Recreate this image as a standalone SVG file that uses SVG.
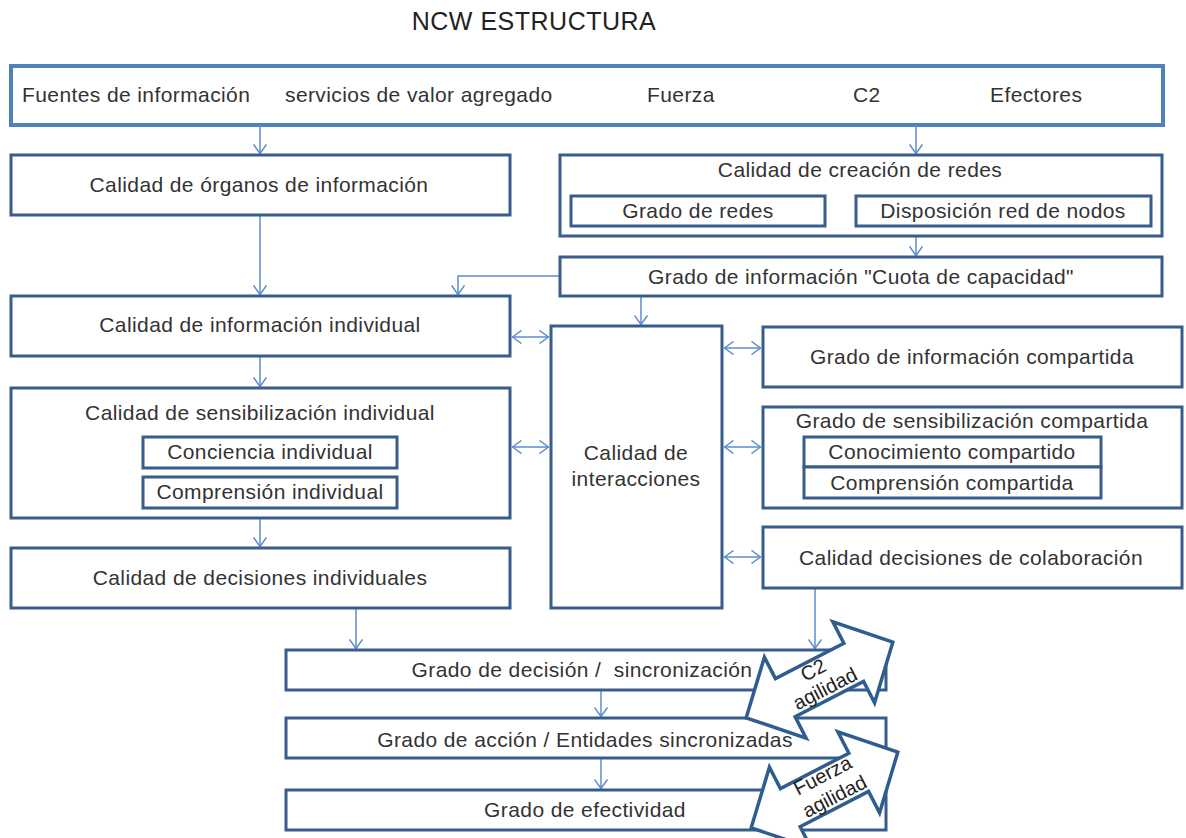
<svg xmlns="http://www.w3.org/2000/svg" width="1186" height="838" viewBox="0 0 1186 838">
<defs>
<style>
.bx{fill:#fff;stroke:#385D8A;stroke-width:3}
.top{fill:#fff;stroke:#4F81BD;stroke-width:4}
.t{font-family:"Liberation Sans",Arial,sans-serif;font-size:21px;fill:#333;letter-spacing:0.4px;text-anchor:middle}
.ts{font-family:"Liberation Sans",Arial,sans-serif;font-size:21px;fill:#333;letter-spacing:0.4px}
.c{fill:none;stroke:#5B8DD0;stroke-width:1.5}
.ba{fill:#fff;stroke:#2F5D8F;stroke-width:3.5;stroke-linejoin:miter}
.bt{font-family:"Liberation Sans",Arial,sans-serif;font-size:20px;fill:#222;text-anchor:middle}
</style>
<marker id="ah" viewBox="0 0 10 14" refX="10" refY="7" markerWidth="10" markerHeight="14" markerUnits="userSpaceOnUse" orient="auto-start-reverse">
<path d="M0.5,0.5 L9.5,7 L0.5,13.5" fill="none" stroke="#5B8DD0" stroke-width="1.5"/>
</marker>
<polygon id="blk" points="-82.5,0 -38.5,-45.5 -38.5,-21.5 38.5,-21.5 38.5,-45.5 82.5,0 38.5,45.5 38.5,21.5 -38.5,21.5 -38.5,45.5"/>
</defs>
<rect width="1186" height="838" fill="#fff"/>
<text x="534" y="30" font-family="'Liberation Sans',Arial,sans-serif" font-size="25" fill="#222" text-anchor="middle" letter-spacing="0.5">NCW ESTRUCTURA</text>

<g id="top">
<rect class="top" x="11" y="66" width="1152" height="59"/>
<text class="ts" x="22" y="102">Fuentes de información</text>
<text class="ts" x="285" y="102">servicios de valor agregado</text>
<text class="ts" x="647" y="102">Fuerza</text>
<text class="ts" x="853" y="102">C2</text>
<text class="ts" x="990" y="102">Efectores</text>
</g>

<g id="connectors">
<path class="c" d="M260,125 V154" marker-end="url(#ah)"/>
<path class="c" d="M916,125 V154" marker-end="url(#ah)"/>
<path class="c" d="M916,236 V256" marker-end="url(#ah)"/>
<path class="c" d="M560,276 H458 V295" marker-end="url(#ah)"/>
<path class="c" d="M641,296 V325" marker-end="url(#ah)"/>
<path class="c" d="M260,215 V295" marker-end="url(#ah)"/>
<path class="c" d="M260,356 V387" marker-end="url(#ah)"/>
<path class="c" d="M260,518 V547" marker-end="url(#ah)"/>
<path class="c" d="M356,608 V649" marker-end="url(#ah)"/>
<path class="c" d="M815,588 V649" marker-end="url(#ah)"/>
<path class="c" d="M601,690 V717" marker-end="url(#ah)"/>
<path class="c" d="M601,758 V789" marker-end="url(#ah)"/>
<path class="c" d="M512,337 H549" marker-start="url(#ah)" marker-end="url(#ah)"/>
<path class="c" d="M512,447 H549" marker-start="url(#ah)" marker-end="url(#ah)"/>
<path class="c" d="M724,348 H761" marker-start="url(#ah)" marker-end="url(#ah)"/>
<path class="c" d="M724,447 H761" marker-start="url(#ah)" marker-end="url(#ah)"/>
<path class="c" d="M724,557 H761" marker-start="url(#ah)" marker-end="url(#ah)"/>
</g>

<g id="organos">
<rect class="bx" x="11" y="155" width="499" height="60"/>
<text class="t" x="259" y="192">Calidad de órganos de información</text>
</g>
<g id="creacion">
<rect class="bx" x="560" y="155" width="602" height="81"/>
<text class="t" x="860" y="177">Calidad de creación de redes</text>
</g>
<g id="grado-redes">
<rect class="bx" x="571" y="196" width="254" height="30"/>
<text class="t" x="698" y="218">Grado de redes</text>
</g>
<g id="disposicion">
<rect class="bx" x="856" y="196" width="295" height="30"/>
<text class="t" x="1003" y="218">Disposición red de nodos</text>
</g>
<g id="cuota">
<rect class="bx" x="560" y="257" width="602" height="39"/>
<text class="t" x="861" y="284">Grado de información "Cuota de capacidad"</text>
</g>
<g id="info-ind">
<rect class="bx" x="11" y="296" width="499" height="60"/>
<text class="t" x="260" y="332">Calidad de información individual</text>
</g>
<g id="sens-ind">
<rect class="bx" x="11" y="388" width="499" height="130"/>
<text class="t" x="260" y="420">Calidad de sensibilización individual</text>
</g>
<g id="conciencia">
<rect class="bx" x="143" y="437" width="254" height="31"/>
<text class="t" x="270" y="459">Conciencia individual</text>
</g>
<g id="comprension-ind">
<rect class="bx" x="143" y="477" width="254" height="31"/>
<text class="t" x="270" y="499">Comprensión individual</text>
</g>
<g id="decisiones-ind">
<rect class="bx" x="11" y="548" width="499" height="60"/>
<text class="t" x="260" y="585">Calidad de decisiones individuales</text>
</g>
<g id="interacciones">
<rect class="bx" x="551" y="326" width="171" height="282"/>
<text class="t" x="636" y="460">Calidad de</text>
<text class="t" x="636" y="486">interacciones</text>
</g>
<g id="info-comp">
<rect class="bx" x="763" y="327" width="419" height="60"/>
<text class="t" x="972" y="364">Grado de información compartida</text>
</g>
<g id="sens-comp">
<rect class="bx" x="763" y="407" width="419" height="101"/>
<text class="t" x="972" y="428">Grado de sensibilización compartida</text>
</g>
<g id="conocimiento">
<rect class="bx" x="804" y="437" width="297" height="30"/>
<text class="t" x="952" y="459">Conocimiento compartido</text>
</g>
<g id="comprension-comp">
<rect class="bx" x="804" y="467" width="297" height="31"/>
<text class="t" x="952" y="490">Comprensión compartida</text>
</g>
<g id="colaboracion">
<rect class="bx" x="763" y="527" width="419" height="61"/>
<text class="t" x="971" y="565">Calidad decisiones de colaboración</text>
</g>
<g id="decision-sinc">
<rect class="bx" x="286" y="650" width="600" height="40"/>
<text class="t" x="582" y="677" xml:space="preserve">Grado de decisión /  sincronización</text>
</g>
<g id="accion">
<rect class="bx" x="286" y="718" width="600" height="40"/>
<text class="t" x="585" y="747">Grado de acción / Entidades sincronizadas</text>
</g>
<g id="efectividad">
<rect class="bx" x="286" y="790" width="600" height="40"/>
<text class="t" x="585" y="817">Grado de efectividad</text>
</g>

<g id="c2-agilidad" transform="translate(819.5,680) rotate(-27.3)">
<use href="#blk" class="ba"/>
<text class="bt" x="-1" y="-5">C2</text>
<text class="bt" x="1" y="17">agilidad</text>
</g>
<g id="fuerza-agilidad" transform="translate(824.5,790) rotate(-27.3)">
<use href="#blk" class="ba"/>
<text class="bt" x="5" y="-7">Fuerza</text>
<text class="bt" x="6" y="17">agilidad</text>
</g>
</svg>
